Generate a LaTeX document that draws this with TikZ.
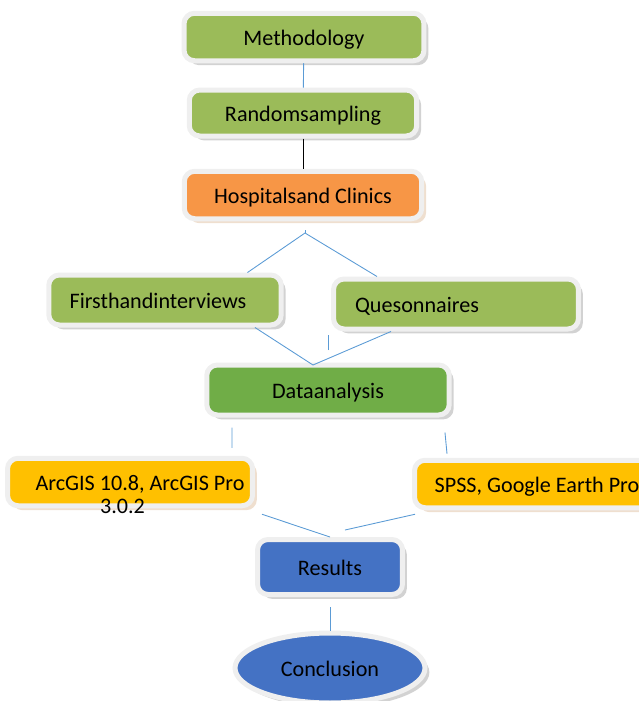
\documentclass[tikz,border=0pt]{standalone}
\usepackage{fontspec}
\setmainfont{Carlito}
\usetikzlibrary{shapes.geometric,shadows}
\definecolor{leaf}{HTML}{9BBB59}
\definecolor{moss}{HTML}{70AD47}
\definecolor{clay}{HTML}{F79646}
\definecolor{gold}{HTML}{FFC000}
\definecolor{sea}{HTML}{4472C4}
\definecolor{rim}{HTML}{EFEFEF}
\definecolor{sky}{HTML}{5B9BD5}
\begin{document}
\begin{tikzpicture}[x=0.02cm,y=-0.02cm,
    font=\fontsize{12.6}{14}\selectfont,
    box/.style={draw=rim,line width=0.1cm,rounded corners=6pt,inner sep=2pt,
      text height=2.3ex,text depth=0.3ex,
      drop shadow={shadow xshift=2.5pt,shadow yshift=-2.5pt,fill=#1}},
    box/.default={black!35},
    link/.style={sky,line width=0.5pt}]
    \useasboundingbox (0,0) rectangle (639,701);
    \clip (0,0) rectangle (639,701);
    \node[box,fill=leaf,minimum width=4.8cm,minimum height=0.95cm] (meth) at (304,37) {Methodology};
    \node[box,fill=leaf,minimum width=4.55cm,minimum height=0.92cm] (rand) at (303,113) {Randomsampling};
    \node[box=brown!50,fill=clay,minimum width=4.75cm,minimum height=0.95cm] (hosp) at (303,195) {Hospitalsand Clinics};
    \node[box,fill=leaf,minimum width=4.65cm,minimum height=1cm] (first) at (165,300) {Firsthandinterviews\hspace*{0.28cm}};
    \node[box,fill=leaf,minimum width=4.9cm,minimum height=1cm] (quest) at (456,304) {Quesonnaires\hspace*{1.56cm}};
    \node[box,fill=moss,minimum width=4.85cm,minimum height=1cm] (data) at (328,390) {Dataanalysis};
    \node[box=brown!50,fill=gold,minimum width=4.9cm,minimum height=0.95cm,
      label={[anchor=center,xshift=-0.15cm,yshift=0.04cm]south:3.0.2}] (arc) at (130,482) {\hspace*{0.4cm}ArcGIS 10.8, ArcGIS Pro};
    \node[box=brown!50,fill=gold,minimum width=4.9cm,minimum height=0.95cm] (spss) at (537,484) {SPSS, Google Earth Pro};
    \node[box,fill=sea,minimum width=2.9cm,minimum height=1.1cm] (res) at (330,567) {Results};
    \node[box,ellipse,fill=sea,minimum width=3.8cm,minimum height=1.4cm] (conc) at (330,668) {Conclusion};

    \coordinate (split) at (305,233);
    \coordinate (join) at ([xshift=-0.3cm,yshift=-0.05cm]data.north);
    \draw[link] (meth) -- (rand);
    \draw[black,line width=0.5pt] (rand) -- (hosp);
    \draw[link] (split) -- ++(0,-3);
    \draw[link] (split) -- ([xshift=1.65cm]first.north);
    \draw[link] (split) -- ([xshift=-1.58cm]quest.north);
    \draw[link] ([xshift=1.8cm]first.south) -- (join);
    \draw[link] ([xshift=-1.3cm]quest.south) -- (join);
    \draw[link] ([yshift=0.25cm]data.north) -- ([yshift=0.55cm]data.north);
    \draw[link] ([xshift=-1.92cm,yshift=-0.2cm]data.south) -- ([xshift=2.04cm,yshift=0.16cm]arc.north);
    \draw[link] ([xshift=2.34cm,yshift=-0.3cm]data.south) -- ([xshift=-1.8cm,yshift=0.08cm]spss.north);
    \draw[link] ([xshift=2.64cm,yshift=-0.12cm]arc.south) -- (res.north);
    \draw[link] ([xshift=-2.44cm,yshift=-0.08cm]spss.south) -- ([xshift=0.3cm,yshift=0.14cm]res.north);
    \draw[link] ([yshift=-0.2cm]res.south) -- (conc.north);
\end{tikzpicture}
\end{document}
